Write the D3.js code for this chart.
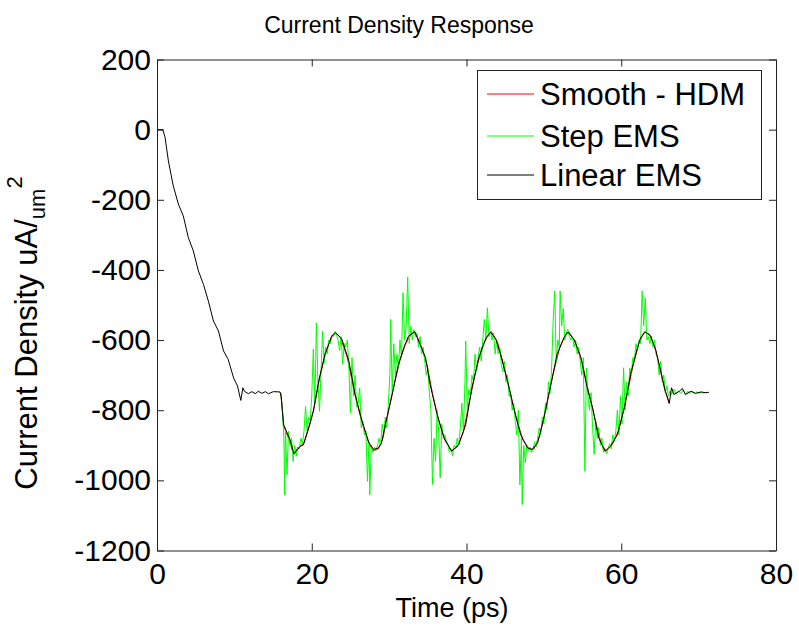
<!DOCTYPE html>
<html>
<head>
<meta charset="utf-8">
<script src="https://cdn.jsdelivr.net/npm/d3@7"></script>
<style>
  body { margin: 0; background: #fff; }
  svg { display: block; }
  text { font-family: "Liberation Sans", Arial, sans-serif; fill: #000; }
</style>
</head>
<body>
<svg id="chart" width="799" height="630"></svg>
<script>
// ---------- data ----------
const seriesNames = ["Smooth - HDM", "Step EMS", "Linear EMS"];
const seriesColors = ["#ff0000", "#00ff00", "#000000"];
const xTicks = [0, 20, 40, 60, 80];
const yTicks = [200, 0, -200, -400, -600, -800, -1000, -1200];

// Linear EMS [time ps, current density]
const linearEMS = [
  [0,0],[0.75,0],[1.04,-22],[1.47,-89],[2.1,-160],[2.76,-212],[3.4,-246],[4.05,-308],
  [4.7,-346],[5.35,-403],[6.0,-441],[6.64,-489],[7.3,-546],[7.94,-574],[8.6,-631],
  [9.2,-655],[9.9,-708],[10.4,-731],[10.83,-772],[11.1,-736],[11.3,-746],[11.8,-753],
  [12.25,-747],[12.7,-753],[13.1,-746],[13.55,-752],[14.0,-747],[14.4,-753],[15.05,-747],
  [15.9,-748],[16.05,-760],[16.35,-841],[17.2,-884],[17.7,-925],[18.5,-903],[18.9,-899],
  [19.6,-850],[20.2,-803],[20.9,-717],[21.7,-641],[22.6,-589],[23.1,-579],[23.9,-598],
  [24.8,-660],[25.6,-755],[26.5,-831],[27.4,-893],[28.0,-912],[28.6,-908],[29.0,-895],
  [29.5,-841],[30.4,-755],[31.2,-670],[31.9,-622],[32.5,-589],[33.3,-576],[34.0,-612],
  [34.7,-650],[35.3,-727],[36.2,-812],[37.1,-879],[38.1,-917],[39.0,-898],[39.9,-841],
  [40.7,-736],[41.6,-650],[42.5,-596],[43.1,-577],[43.8,-598],[44.4,-641],[45.3,-717],
  [46.1,-793],[47.0,-870],[47.9,-908],[48.5,-912],[49.2,-893],[50.0,-822],[50.9,-727],
  [51.7,-641],[52.6,-593],[53.1,-577],[53.9,-598],[54.8,-650],[55.6,-736],[56.3,-793],
  [57.1,-879],[57.9,-917],[58.6,-903],[59.5,-870],[60.4,-793],[61.2,-698],[62.1,-622],
  [62.5,-593],[63.1,-577],[63.8,-588],[64.5,-631],[65.1,-689],[65.7,-746],[66.2,-781],
  [66.5,-736],[66.8,-755],[67.5,-746],[67.9,-738],[68.3,-755],[69.0,-746],[69.6,-752],
  [70.3,-748],[70.9,-750],[71.3,-749]
];

// Smooth - HDM
const smoothHDM = [
  [16.0,-752],[16.4,-845],[17.0,-880],[17.6,-922],[18.3,-905],[19.0,-895],[19.7,-845],
  [20.3,-795],[21.0,-710],[21.8,-635],[22.5,-592],[23.0,-578],[23.7,-592],[24.6,-650],
  [25.5,-748],[26.4,-828],[27.3,-890],[27.9,-916],[28.6,-910],[29.2,-880],[29.9,-805],
  [30.6,-730],[31.4,-658],[32.1,-612],[32.8,-585],[33.3,-575],[34.1,-615],[34.9,-670],
  [35.6,-752],[36.4,-828],[37.2,-885],[38.0,-916],[38.8,-905],[39.6,-862],[40.4,-772],
  [41.2,-690],[42.0,-620],[42.7,-588],[43.2,-576],[44.0,-605],[44.8,-670],[45.6,-745],
  [46.4,-820],[47.3,-885],[48.1,-910],[48.7,-911],[49.5,-870],[50.3,-790],[51.2,-697],
  [52.0,-625],[52.7,-588],[53.2,-576],[54.1,-608],[55.0,-670],[55.9,-760],[56.6,-825],
  [57.4,-895],[58.0,-915],[58.8,-900],[59.7,-855],[60.6,-772],[61.5,-675],[62.3,-608],
  [63.0,-576],[63.6,-583],[64.3,-618],[65.0,-680],[65.6,-740],[66.2,-778]
];

// Step EMS
const stepEMS = [
  [16.0,-750],[16.2,-800],[16.4,-880],[16.5,-1041],[16.6,-850],[16.8,-984],[17.0,-860],
  [17.2,-900],[17.4,-880],[17.6,-946],[17.8,-900],[18.0,-930],[18.2,-905],[18.4,-910],
  [18.6,-880],[18.8,-895],[19.0,-860],[19.2,-789],[19.4,-860],[19.6,-820],[19.8,-830],
  [20.0,-760],[20.2,-626],[20.4,-780],[20.6,-551],[20.8,-720],[21.0,-803],[21.2,-690],
  [21.4,-574],[21.6,-666],[21.8,-620],[22.0,-640],[22.2,-600],[22.4,-610],[22.6,-585],
  [22.8,-590],[23.0,-575],[23.2,-585],[23.4,-600],[23.6,-630],[23.8,-590],[24.0,-669],
  [24.2,-610],[24.4,-620],[24.6,-600],[24.8,-680],[25.0,-808],[25.2,-650],[25.4,-760],
  [25.6,-700],[25.8,-790],[26.0,-780],[26.2,-736],[26.4,-850],[26.6,-830],[26.8,-870],
  [27.0,-860],[27.2,-1003],[27.4,-890],[27.5,-1041],[27.7,-900],[27.9,-920],[28.1,-905],
  [28.3,-915],[28.5,-900],[28.7,-880],[28.9,-900],[29.1,-840],[29.3,-870],[29.5,-820],
  [29.7,-850],[29.9,-780],[30.1,-700],[30.2,-541],[30.4,-750],[30.6,-610],[30.8,-700],
  [31.0,-640],[31.2,-680],[31.4,-600],[31.6,-650],[31.8,-465],[32.0,-600],[32.2,-560],
  [32.4,-420],[32.6,-610],[32.8,-560],[33.0,-600],[33.2,-570],[33.4,-590],[33.6,-580],
  [33.8,-620],[34.0,-590],[34.2,-640],[34.4,-620],[34.6,-660],[34.8,-700],[35.0,-680],
  [35.2,-750],[35.4,-800],[35.6,-1012],[35.8,-880],[36.0,-946],[36.2,-800],[36.4,-860],
  [36.6,-993],[36.8,-840],[37.0,-880],[37.2,-870],[37.4,-890],[37.6,-900],[37.8,-920],
  [38.0,-910],[38.2,-930],[38.4,-900],[38.6,-910],[38.8,-880],[39.0,-900],[39.2,-850],
  [39.4,-780],[39.6,-860],[39.8,-720],[39.9,-603],[40.1,-800],[40.3,-740],[40.5,-760],
  [40.7,-700],[40.9,-720],[41.1,-640],[41.3,-690],[41.5,-650],[41.7,-620],[41.9,-660],
  [42.1,-600],[42.3,-541],[42.5,-600],[42.7,-508],[42.9,-590],[43.1,-575],[43.3,-600],
  [43.5,-580],[43.7,-640],[43.9,-600],[44.1,-640],[44.3,-620],[44.5,-670],[44.7,-690],
  [44.9,-660],[45.1,-720],[45.3,-700],[45.5,-760],[45.7,-750],[45.9,-800],[46.1,-780],
  [46.3,-830],[46.5,-870],[46.7,-800],[46.9,-1013],[47.1,-880],[47.2,-1069],[47.4,-900],
  [47.6,-950],[47.8,-900],[48.0,-915],[48.2,-905],[48.4,-920],[48.6,-910],[48.8,-890],
  [49.0,-905],[49.2,-880],[49.4,-850],[49.6,-870],[49.8,-820],[50.0,-840],[50.2,-780],
  [50.4,-800],[50.6,-720],[50.8,-750],[51.0,-680],[51.2,-546],[51.4,-460],[51.6,-660],
  [51.8,-600],[52.0,-620],[52.1,-460],[52.3,-560],[52.5,-510],[52.7,-600],[52.9,-580],
  [53.1,-570],[53.3,-590],[53.5,-600],[53.7,-590],[53.9,-620],[54.1,-600],[54.3,-640],
  [54.5,-620],[54.7,-660],[54.9,-700],[55.1,-650],[55.3,-974],[55.5,-680],[55.7,-760],
  [55.9,-800],[56.1,-750],[56.3,-850],[56.5,-926],[56.7,-830],[56.9,-880],[57.1,-850],
  [57.3,-900],[57.5,-880],[57.7,-920],[57.9,-910],[58.1,-925],[58.3,-910],[58.5,-895],
  [58.7,-910],[58.9,-870],[59.1,-890],[59.3,-860],[59.5,-800],[59.7,-870],[59.9,-760],
  [60.1,-840],[60.3,-679],[60.5,-800],[60.7,-720],[60.9,-760],[61.1,-680],[61.3,-700],
  [61.5,-650],[61.7,-660],[61.9,-610],[62.1,-630],[62.3,-600],[62.5,-610],[62.7,-460],
  [62.9,-560],[63.1,-480],[63.3,-600],[63.5,-590],[63.7,-610],[63.9,-590],[64.1,-620],
  [64.3,-600],[64.5,-640],[64.7,-650],[64.9,-700],[65.1,-660],[65.3,-720],[65.5,-700],
  [65.7,-750],[65.9,-730],[66.1,-760],[66.3,-745],[66.5,-755],[66.8,-740],[67.1,-755],
  [67.4,-745],[67.7,-752],[68.0,-742],[68.3,-756],[68.6,-746],[68.9,-752],[69.2,-745],
  [69.5,-753],[69.8,-747],[70.1,-752],[70.4,-748],[70.7,-751],[71.0,-749],[71.3,-750]
];

// ---------- layout ----------
const svg = d3.select("#chart");
const plot = { left: 157, right: 776, top: 59.5, bottom: 550.5 };
const x = d3.scaleLinear().domain([0, 80]).range([plot.left, plot.right]);
const y = d3.scaleLinear().domain([-1200, 200]).range([plot.bottom, plot.top]);
const FS = 30;

// Title
svg.append("text")
  .attr("x", 399).attr("y", 33)
  .attr("text-anchor", "middle").style("font-size", "23px")
  .text("Current Density Response");

// data lines
const line = d3.line().x(d => x(d[0])).y(d => y(d[1]));
const seriesData = [smoothHDM, stepEMS, linearEMS];
seriesData.forEach((data, i) => {
  svg.append("path").datum(data)
    .attr("d", line).attr("fill", "none")
    .attr("stroke", seriesColors[i]).attr("stroke-width", 1)
    .attr("stroke-linejoin", "round");
});

// Axes with inward ticks on all four sides
const tickLen = 7;
const axisStyle = g => {
  g.selectAll("path.domain").attr("stroke", "#222").attr("stroke-width", 1);
  g.selectAll(".tick line").attr("stroke", "#222");
  g.selectAll("text").style("font-size", FS + "px").style("font-family", "Liberation Sans, Arial, sans-serif").attr("fill", "#000");
};
svg.append("g").attr("transform", `translate(0,${plot.bottom})`)
  .call(d3.axisBottom(x).tickValues(xTicks).tickSize(-tickLen).tickSizeOuter(0).tickPadding(12).tickFormat(d3.format("d")))
  .call(axisStyle);
svg.append("g").attr("transform", `translate(0,${plot.top})`)
  .call(d3.axisTop(x).tickValues(xTicks).tickSize(-tickLen).tickSizeOuter(0).tickFormat(""))
  .call(axisStyle);
svg.append("g").attr("transform", `translate(${plot.left},0)`)
  .call(d3.axisLeft(y).tickValues(yTicks).tickSize(-tickLen).tickSizeOuter(0).tickPadding(6).tickFormat(d => d3.format("d")(d).replace("−", "-")))
  .call(axisStyle);
svg.append("g").attr("transform", `translate(${plot.right},0)`)
  .call(d3.axisRight(y).tickValues(yTicks).tickSize(-tickLen).tickSizeOuter(0).tickFormat(""))
  .call(axisStyle);

// Axis labels
svg.append("text")
  .attr("x", 452).attr("y", 617)
  .attr("text-anchor", "middle").style("font-size", "27px")
  .text("Time (ps)");

const yl = svg.append("text")
  .attr("transform", "translate(37,333) rotate(-90)")
  .attr("text-anchor", "middle").style("font-size", "31px");
yl.append("tspan").text("Current Density uA/");
yl.append("tspan").attr("dy", 8).style("font-size", "22px").text("um");
yl.append("tspan").attr("dy", -23).style("font-size", "22px").text("2");

// Legend
const lg = svg.append("g");
lg.append("rect").attr("x", 477.5).attr("y", 70.5).attr("width", 284).attr("height", 129)
  .attr("fill", "#fff").attr("stroke", "#222").attr("stroke-width", 1);
const legendRowsY = [94, 136, 175];
seriesNames.forEach((name, i) => {
  lg.append("line").attr("x1", 487).attr("x2", 534)
    .attr("y1", legendRowsY[i]).attr("y2", legendRowsY[i])
    .attr("stroke", seriesColors[i]).attr("stroke-width", 1);
  lg.append("text").attr("x", 540).attr("y", legendRowsY[i] + 11)
    .style("font-size", "31px").text(name);
});
</script>
</body>
</html>
